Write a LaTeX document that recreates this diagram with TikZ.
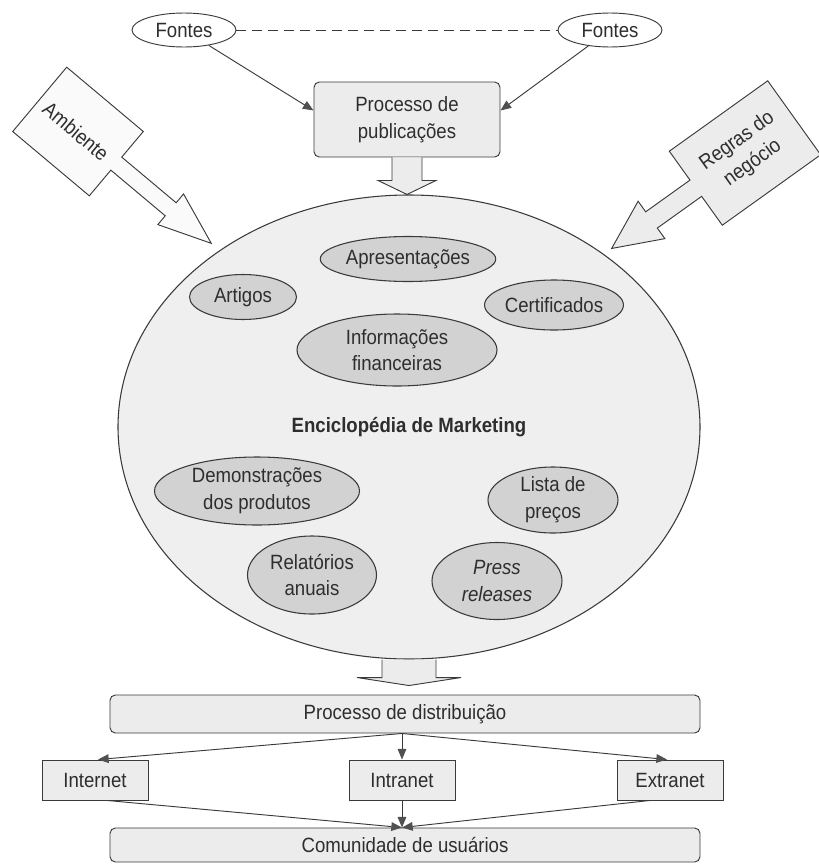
\documentclass[tikz,border=0pt]{standalone}
\usepackage{fontspec}
\setmainfont{Liberation Sans}[FakeStretch=0.9]
\usetikzlibrary{shapes.geometric,arrows.meta,calc}
\definecolor{inkc}{HTML}{2E2E2E}
\definecolor{linec}{HTML}{3A3A3A}
\definecolor{tipc}{HTML}{505050}
\definecolor{paperc}{HTML}{EFEFEF}
\definecolor{bubblec}{HTML}{D2D2D2}
\definecolor{boxc}{HTML}{ECECEC}
\definecolor{pagec}{HTML}{FAFAFA}
% lengths given in pixels of the drawing grid
\def\px{*0.75pt}
\begin{document}
\begin{tikzpicture}[x=0.75pt,y=-0.75pt,
  every node/.style={text=inkc, font=\fontsize{15.5}{20}\selectfont, align=center},
  edge/.style={draw=linec, line width=0.7pt},
  tipline/.style={edge, -{Triangle[length=8pt,width=6.5pt,color=tipc]}},
  bigarrow/.style={draw=linec, fill=boxc, line width=0.7pt, line join=miter},
  source/.style={ellipse, draw=linec, line width=0.7pt, fill=white, inner sep=0pt,
    minimum width=104\px, minimum height=34\px},
  bubble/.style={ellipse, draw=linec, line width=0.8pt, fill=bubblec, inner sep=0pt},
  procbox/.style={rectangle, rounded corners=4pt, draw=linec, line width=0.7pt, fill=boxc},
  netbox/.style={rectangle, draw=linec, line width=0.7pt, fill=boxc, inner sep=0pt,
    minimum width=106\px, minimum height=40\px}
]
\useasboundingbox (0,0) rectangle (818,864);

% sources and publication process
\node[source] (fL) at (184,30) {Fontes};
\node[source] (fR) at (610,30) {Fontes};
\node[procbox, minimum width=186\px, minimum height=75\px] (pub) at (407,119.5)
  {Processo de\\publicações};
\draw[edge, dash pattern=on 7pt off 5pt] (fL) -- (fR);
\draw[tipline] (fL) -- ($(pub.west)+(0,-9)$);
\draw[tipline] (fR) -- ($(pub.east)+(0,-9)$);

% the encyclopedia
\node[ellipse, draw=linec, line width=0.8pt, fill=paperc, inner sep=0pt,
  minimum width=582\px, minimum height=464\px,
  font=\fontsize{15.5}{20}\selectfont\bfseries] (enc) at (409,427)
  {Enciclopédia de Marketing};

% publication feeds the encyclopedia
\draw[bigarrow] ($(pub.south)+(-15,0)$) -- ($(pub.south)+(-15,23)$)
  -- ($(pub.south)+(-29,23)$) -- (pub.south |- enc.north)
  -- ($(pub.south)+(29,23)$) -- ($(pub.south)+(15,23)$) -- ($(pub.south)+(15,0)$);

% contents
\node[bubble, minimum width=163\px, minimum height=45\px] (apr) at (408,259) {Apresentações};
\node[bubble, minimum width=107\px, minimum height=45\px] (art) at (243,297) {Artigos};
\node[bubble, minimum width=132\px, minimum height=50\px] (cert) at (554,305) {Certificados};
\node[bubble, minimum width=200\px, minimum height=72\px] (inf) at (397,350) {Informações\\financeiras};
\node[bubble, minimum width=205\px, minimum height=68\px] (dem) at (257,491) {Demonstrações\\dos produtos};
\node[bubble, minimum width=130\px, minimum height=66\px] (lis) at (553,500) {Lista de\\preços};
\node[bubble, minimum width=129\px, minimum height=78\px] (rel) at (312,575) {Relatórios\\anuais};
\node[bubble, minimum width=130\px, minimum height=77\px,
  font=\fontsize{15.5}{20}\selectfont\itshape] (pre) at (497,581) {Press\\releases};

% environment arrow (upper left)
\begin{scope}[shift={(78,131.5)}, rotate=-40]
  \draw[bigarrow, fill=pagec] (-50,-42) -- (50,-42) -- (50,-8.5) -- (121,-8.5) -- (121,-20)
    -- (174,0) -- (121,20) -- (121,8.5) -- (50,8.5) -- (50,42) -- (-50,42) -- cycle;
\end{scope}
\node[rotate=-40] (amb) at (76,131.5) {Ambiente};

% business rules arrow (upper right)
\begin{scope}[shift={(745,153)}, rotate=215.6]
  \draw[bigarrow] (-60.5,-45.5) -- (60.5,-45.5) -- (60.5,-10) -- (115,-10) -- (115,-23)
    -- (164,0) -- (115,23) -- (115,10) -- (60.5,10) -- (60.5,45.5) -- (-60.5,45.5) -- cycle;
\end{scope}
\node[rotate=35.6] (reg) at (745,152) {Regras do\\negócio};

% distribution
\node[procbox, minimum width=590\px, minimum height=38\px] (dist) at (405,714)
  {Processo de distribuição};
\draw[bigarrow] ($(enc.south)+(-27,0)$) -- ($(enc.south)+(-27,18)$)
  -- ($(enc.south)+(-52,18)$) -- ($(enc.south |- dist.north)+(0,-9)$)
  -- ($(enc.south)+(52,18)$) -- ($(enc.south)+(27,18)$) -- ($(enc.south)+(27,0)$);

\node[netbox] (inet) at (95,780) {Internet};
\node[netbox] (intra) at (402,780) {Intranet};
\node[netbox] (extra) at (670,780) {Extranet};
\node[procbox, minimum width=590\px, minimum height=34\px] (com) at (405,845)
  {Comunidade de usuários};

\coordinate (split) at (intra.north |- dist.south);
\coordinate (merge) at (intra.south |- com.north);
\draw[tipline] (split) -- ($(inet.north)+(3,0)$);
\draw[tipline] (split) -- (intra.north);
\draw[tipline] (split) -- ($(extra.north)+(-3,0)$);
\draw[tipline] ($(inet.south)+(12,0)$) -- (merge);
\draw[tipline] (intra.south) -- (merge);
\draw[tipline] ($(extra.south)+(-20,0)$) -- (merge);
\end{tikzpicture}
\end{document}
